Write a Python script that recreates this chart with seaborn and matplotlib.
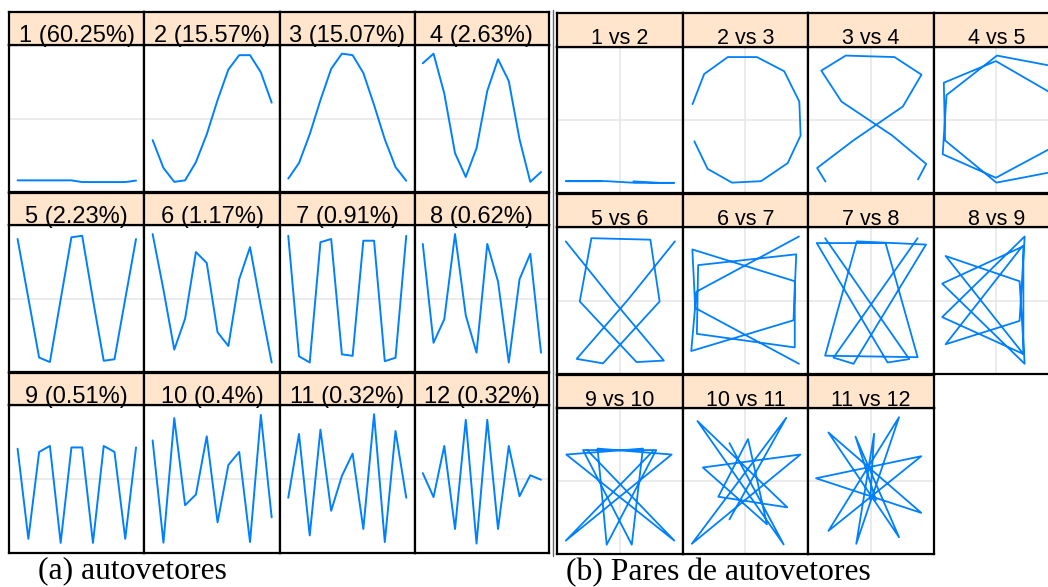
import matplotlib
matplotlib.use("Agg")
import matplotlib.pyplot as plt
import seaborn as sns

# Eigenvector contributions (%) and the 12 entries of each eigenvector
shares = [60.25, 15.57, 15.07, 2.63, 2.23, 1.17, 0.91, 0.62, 0.51, 0.4, 0.32, 0.32]
lag = list(range(1, 13))

u1 = [-0.288, -0.288, -0.288, -0.288, -0.288, -0.288, -0.296, -0.296, -0.296, -0.296, -0.296, -0.289]
u2 = [-0.100, -0.230, -0.295, -0.288, -0.203, -0.073, 0.087, 0.230, 0.297, 0.297, 0.217, 0.075]
u3 = [-0.280, -0.207, -0.073, 0.087, 0.233, 0.304, 0.297, 0.214, 0.064, -0.096, -0.226, -0.290]
u4 = [0.259, 0.304, 0.118, -0.161, -0.272, -0.138, 0.130, 0.278, 0.176, -0.096, -0.295, -0.249]
u5 = [0.280, 0.003, -0.274, -0.295, -0.003, 0.288, 0.295, -0.003, -0.289, -0.282, 0.000, 0.280]
u6 = [0.303, 0.043, -0.237, -0.092, 0.219, 0.168, -0.156, -0.220, 0.092, 0.242, -0.034, -0.297]
u7 = [0.295, -0.268, -0.297, 0.265, 0.280, -0.259, -0.266, 0.272, 0.272, -0.291, -0.275, 0.295]
u8 = [0.257, -0.205, -0.095, 0.303, -0.077, -0.251, 0.257, 0.081, -0.297, 0.092, 0.211, -0.251]
u9 = [0.142, -0.279, 0.127, 0.155, -0.298, 0.148, 0.148, -0.298, 0.155, 0.127, -0.279, 0.148]
u10 = [0.181, -0.297, 0.285, -0.122, -0.072, 0.200, -0.202, 0.066, 0.127, -0.294, 0.300, -0.179]
u11 = [-0.087, 0.211, -0.263, 0.231, -0.148, 0.015, 0.119, -0.233, 0.303, -0.294, 0.225, -0.087]
u12 = [0.028, -0.084, 0.155, -0.233, 0.277, -0.301, 0.277, -0.233, 0.155, -0.080, 0.018, -0.003]

vectors = [u1, u2, u3, u4, u5, u6, u7, u8, u9, u10, u11, u12]
pairs = [(i, i + 1) for i in range(1, 12)]

LINE = "#0080ff"
STRIP = "#ffe5cc"
GRID = "#e6e6e6"

sns.set_theme(style="white")
plt.rcParams["font.family"] = ["Liberation Sans", "DejaVu Sans"]

W, H = 1048, 587
fig = plt.figure(figsize=(W / 100, H / 100), dpi=100)


def box(x0, y0, x1, y1):
    return fig.add_axes([x0 / W, 1 - y1 / H, (x1 - x0) / W, (y1 - y0) / H])


def frame(ax):
    ax.set_xticks([])
    ax.set_yticks([])
    ax.set_xlabel("")
    ax.set_ylabel("")
    for s in ax.spines.values():
        s.set_visible(True)
        s.set_color("black")
        s.set_linewidth(1.6)


def strip(x0, y0, x1, y1, label, size):
    ax = box(x0, y0, x1, y1)
    ax.set_facecolor(STRIP)
    ax.set_xlim(0, 1)
    ax.set_ylim(0, 1)
    ax.text(0.5, 2.2 / (y1 - y0), label, ha="center", va="baseline",
            fontsize=size, color="black")
    frame(ax)
    ax.set_zorder(3)


# shared value limits (7% padding around the data range)
allv = [v for vec in vectors for v in vec]
lo, hi = min(allv), max(allv)
pad = 0.07 * (hi - lo)
vlim = (lo - pad, hi + pad)
xpad = 0.07 * (lag[-1] - lag[0])
xlim = (lag[0] - xpad, lag[-1] + xpad)

# (a) eigenvectors, 3 x 4 grid
cols_a = [9.3, 144.3, 280.0, 414.5, 549.3]
top_a, pitch_a, sh_a, ph_a = 12.3, 180.2, 32.3, 147.6
for k, vec in enumerate(vectors):
    r, c = divmod(k, 4)
    x0, x1 = cols_a[c], cols_a[c + 1]
    y0 = top_a + r * pitch_a
    strip(x0, y0, x1, y0 + sh_a, f"{k + 1} ({shares[k]:g}%)", 17)
    ax = box(x0, y0 + sh_a, x1, y0 + sh_a + ph_a)
    ax.axhline(0, color=GRID, lw=1.1, zorder=0)
    sns.lineplot(x=lag, y=vec, ax=ax, color=LINE, linewidth=1.4,
                 estimator=None, sort=False)
    ax.set_xlim(*xlim)
    ax.set_ylim(*vlim)
    frame(ax)

# (b) pairs of eigenvectors
cols_b = [557.3, 682.8, 808.3, 933.9, 1059.5]
top_b, pitch_b, sh_b, ph_b = 13.3, 180.7, 33.3, 146.3
for k, (i, j) in enumerate(pairs):
    r, c = divmod(k, 4)
    x0, x1 = cols_b[c], cols_b[c + 1]
    y0 = top_b + r * pitch_b
    strip(x0, y0, x1, y0 + sh_b, f"{i} vs {j}", 15.5)
    ax = box(x0, y0 + sh_b, x1, y0 + sh_b + ph_b)
    ax.axhline(0, color=GRID, lw=1.1, zorder=0)
    ax.axvline(0, color=GRID, lw=1.1, zorder=0)
    sns.lineplot(x=vectors[j - 1], y=vectors[i - 1], ax=ax, color=LINE,
                 linewidth=1.3, estimator=None, sort=False)
    ax.set_xlim(*vlim)
    ax.set_ylim(*vlim)
    frame(ax)

# thin separator between the two figures
fig.add_artist(plt.Line2D([553 / W, 553 / W], [1 - 556 / H, 1 - 10 / H],
                          color="#666666", lw=1.0))

fig.text(38.5 / W, 1 - 578 / H, "(a) autovetores", family="Liberation Serif",
         fontsize=22.8, va="baseline", ha="left", color="black")
fig.text(566.5 / W, 1 - 580 / H, "(b) Pares de autovetores", family="Liberation Serif",
         fontsize=22.8, va="baseline", ha="left", color="black")

fig.savefig("out.png", dpi=100, facecolor="white")
